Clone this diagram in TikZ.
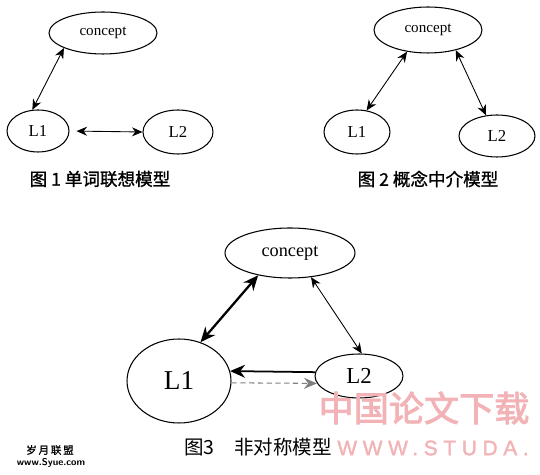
\documentclass[tikz,border=0pt]{standalone}
\usepackage{fontspec}
\setmainfont{Liberation Serif}
\newfontfamily\cjk{Noto Sans CJK SC}
\newfontfamily\cjkb[FakeBold=1.2]{Noto Sans CJK SC}
\newfontfamily\cjkheavy[FakeBold=2.5]{Noto Sans CJK SC}
\newfontfamily\wmfont[LetterSpace=27,FakeBold=1.5]{Liberation Sans}
\usetikzlibrary{arrows.meta,calc,positioning,shapes.geometric}
\definecolor{wmpink}{RGB}{242,178,182}

\begin{document}
\begin{tikzpicture}[x=0.02cm,y=-0.02cm,>=Stealth,
  oval/.style={draw,ellipse,inner sep=0pt,line width=0.6pt},
  link/.style={<->,line width=0.5pt,>={Stealth[length=2.1mm,width=1.8mm]}},
  boldlink/.style={line width=1.3pt,>={Stealth[length=3mm,width=2.6mm]}}]
  \fill[white] (0,0) rectangle (540,475);
  \useasboundingbox (0,0) rectangle (540,475);
  % Fig. 1: word association model.
  \node[oval,minimum width=2.16cm,minimum height=0.84cm,font=\fontsize{8.6}{10}\selectfont] (concept1) at (103,33) {concept};
  \node[oval,minimum width=1.24cm,minimum height=0.84cm,font=\fontsize{9.5}{11}\selectfont] (Lone1) at (38,131) {L1};
  \node[oval,minimum width=1.40cm,minimum height=0.88cm,font=\fontsize{9.5}{11}\selectfont] (Ltwo1) at (178,132) {L2};
  \draw[link] (concept1.201) -- (Lone1.105);
  \draw[link,shorten <=1.4mm] (Lone1.east) -- (Ltwo1.west);
  \node[font=\cjkb\fontsize{10}{12}\selectfont] (cap1) at (100,179) {图 1 单词联想模型};
  % Fig. 2: concept mediation model.
  \node[oval,minimum width=2.16cm,minimum height=0.92cm,font=\fontsize{8.6}{10}\selectfont] (concept2) at (428,30) {concept};
  \node[oval,minimum width=1.32cm,minimum height=0.88cm,font=\fontsize{9.5}{11}\selectfont] (Lone2) at (357,132) {L1};
  \node[oval,minimum width=1.52cm,minimum height=0.84cm,font=\fontsize{9.5}{11}\selectfont] (Ltwo2) at (497,136) {L2};
  \draw[link] (concept2.226) -- (Lone2.66);
  \draw[link] (concept2.324) -- (Ltwo2.118);
  \node[font=\cjkb\fontsize{10}{12}\selectfont] (cap2) at (428,179) {图 2 概念中介模型};
  % Fig. 3: asymmetric model.
  \node[oval,minimum width=2.60cm,minimum height=1.00cm,font=\fontsize{10.4}{12}\selectfont] (concept3) at (290,253) {concept};
  \node[oval,minimum width=2.08cm,minimum height=1.68cm,font=\fontsize{15.5}{18}\selectfont] (Lone3) at (179,381) {L1};
  \node[oval,minimum width=1.76cm,minimum height=0.88cm,font=\fontsize{13}{15}\selectfont] (Ltwo3) at (359,376) {L2};
  \draw[boldlink,<->] (concept3.215) -- (Lone3.61);
  \draw[link] (concept3.311) -- (Ltwo3.83);
  \draw[boldlink,->,line width=1pt] (Ltwo3.175) -- (Lone3.11);
  \draw[->,gray,densely dashed,line width=0.6pt,>={Stealth[length=2.6mm,width=2.2mm]}] (Lone3.358) -- (Ltwo3.190);
  \node[font=\cjk\fontsize{11.1}{14}\selectfont] (cap3) at (258,447) {图3\quad 非对称模型};
  % watermarks
  \node[text=wmpink,font=\cjkheavy\fontsize{20}{24}\selectfont] (wmcn) at (424,408) {中国论文下载};
  \node[text=wmpink,font=\wmfont\fontsize{11.9}{14}\selectfont,anchor=west,inner sep=0pt] (wmen) at (337,448) {WWW.STUDA.};
  \node[font=\cjkb\fontsize{6}{7}\selectfont] (syue) at (50,450) {岁\,月\,联\,盟};
  \node[font=\sffamily\bfseries\fontsize{5.6}{7}\selectfont] (syueweb) at (51,463) {www.Syue.com};
\end{tikzpicture}
\end{document}
